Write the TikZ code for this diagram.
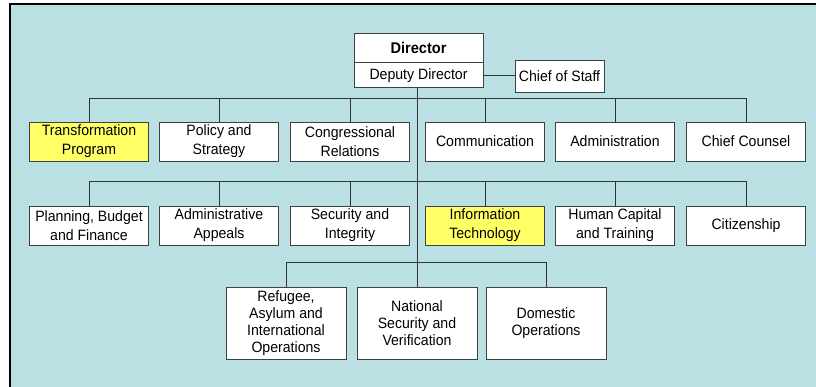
\documentclass[tikz,border=0pt]{standalone}
\usepackage{fontspec}
\setmainfont{Liberation Sans}[FakeStretch=0.94]
\usetikzlibrary{positioning}
\definecolor{orgbg}{HTML}{BBE0E3}
\definecolor{orghi}{HTML}{FFFF66}

\begin{document}
\begin{tikzpicture}[x=1pt, y=-1pt,
	unit/.style={draw=black!75, fill=white, line width=0.9pt, minimum width=119pt, minimum height=39pt,
		inner sep=1pt, align=center, font=\fontsize{15}{19}\selectfont},
	hilite/.style={unit, fill=orghi},
	tall/.style={unit, minimum width=120pt, minimum height=72pt, font=\fontsize{15}{17.2}\selectfont},
	wire/.style={draw=black!80, line width=0.8pt}]
	\useasboundingbox (0,0) rectangle (816,387);
	% background panel, framed only left and top
	\fill[orgbg] (10,4) rectangle (816,387);
	\draw[line width=1.2pt] (10,387) -- (10,4) -- (816,4);

	% Top: director and staff
	\node[unit, minimum width=129pt, minimum height=29pt, font=\fontsize{15.5}{17}\selectfont\bfseries] (dir) at (418.5,47.5) {Director};
	\node[unit, minimum width=129pt, minimum height=25pt, anchor=north] (dep) at (dir.south) {Deputy Director};
	\node[unit, minimum width=89pt, minimum height=32pt] (cos) at (559.5,76) {Chief of Staff};
	\draw[wire] (dep.east) -- (dep.east -| cos.west);

	% bus points on the center line
	\coordinate (b1) at (417,98);
	\coordinate (b2) at (417,181);
	\coordinate (b3) at (417,262);
	\draw[wire] (dep.south -| b1) -- (b3);

	% Row 1
	\node[hilite] (tp) at (89,141.5) {Transformation\\Program};
	\node[unit] (ps) at (219,141.5) {Policy and\\Strategy};
	\node[unit] (cr) at (350,141.5) {Congressional\\Relations};
	\node[unit] (com) at (485,141.5) {Communication};
	\node[unit] (adm) at (615,141.5) {Administration};
	\node[unit] (cc) at (746,141.5) {Chief Counsel};
	\foreach \n in {tp,ps,cr,com,adm,cc}
		\draw[wire] (\n.north) |- (b1);

	% Row 2
	\node[unit] (pbf) at (89,225.5) {Planning, Budget\\and Finance};
	\node[unit] (aa) at (219,225.5) {Administrative\\Appeals};
	\node[unit] (si) at (350,225.5) {Security and\\Integrity};
	\node[hilite] (it) at (485,225.5) {Information\\Technology};
	\node[unit] (hct) at (615,225.5) {Human Capital\\and Training};
	\node[unit] (cit) at (746,225.5) {Citizenship};
	\foreach \n in {pbf,aa,si,it,hct,cit}
		\draw[wire] (\n.north) |- (b2);

	% Row 3: operations
	\node[tall] (rai) at (286,323) {Refugee,\\Asylum and\\International\\Operations};
	\node[tall] (nsv) at (417,323) {National\\Security and\\Verification};
	\node[tall] (dom) at (546,323) {Domestic\\Operations};
	\foreach \n in {rai,nsv,dom}
		\draw[wire] (\n.north) |- (b3);
\end{tikzpicture}
\end{document}
